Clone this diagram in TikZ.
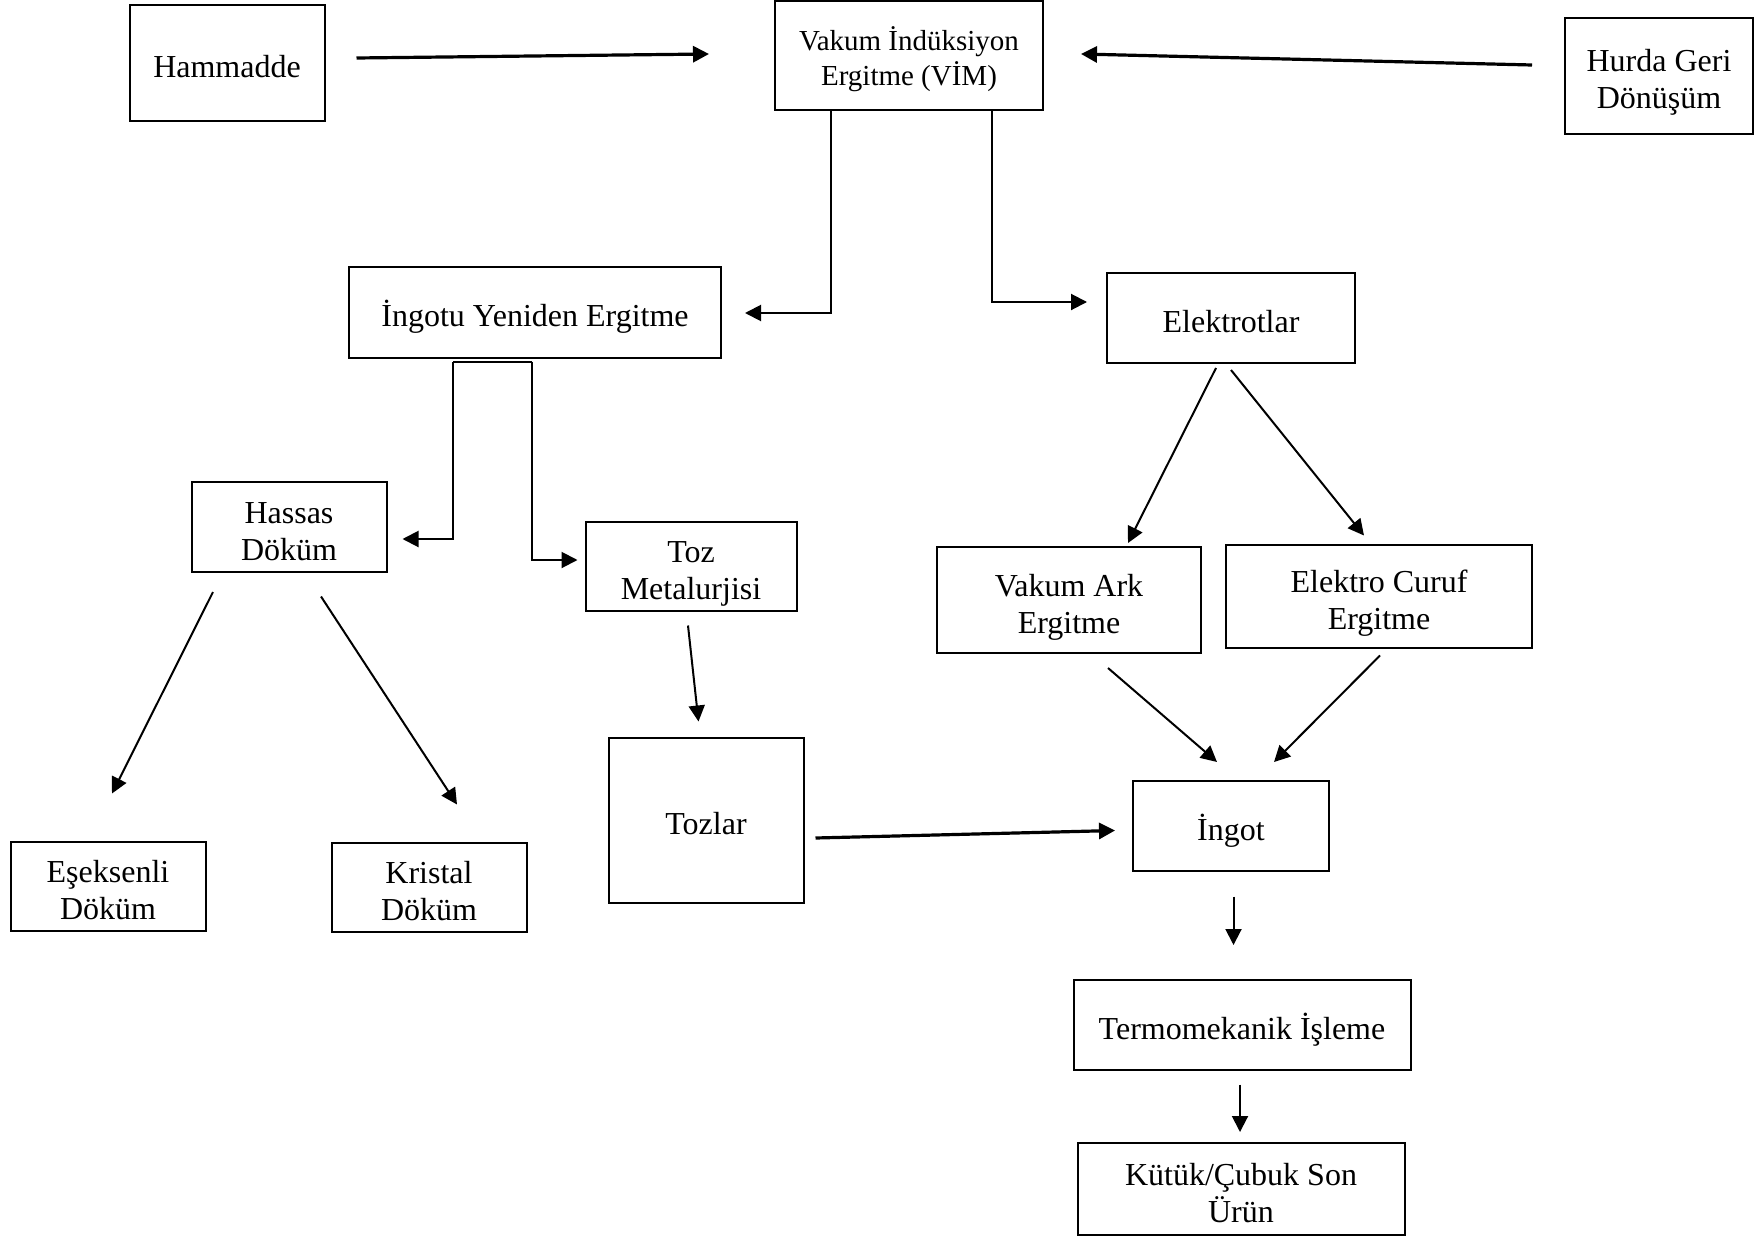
\documentclass[tikz,border=0pt]{standalone}
\usepackage{fontspec}
\setmainfont{Liberation Serif}
\usetikzlibrary{calc,arrows.meta}
\tikzset{
  stepBox/.style={
    rectangle,
    draw=black,
    line width=1pt,
    inner sep=0pt,
    align=center,
    font=\fontsize{16}{18.5}\selectfont,
    text height=14.5pt,
    text depth=0pt
  },
  twoLine/.style={
    text height=33pt
  },
  flowArrow/.style={
    -{Triangle[length=8pt,width=8pt]},
    line width=1pt
  },
  boldArrow/.style={
    flowArrow,
    line width=1.6pt
  },
  flowLine/.style={
    line width=1pt
  }
}

\begin{document}
\begin{tikzpicture}[x=0.5pt,y=-0.5pt]
        \useasboundingbox (0,0) rectangle (1755,1236);

        % top row
        \node[stepBox, minimum width=97.5pt, minimum height=58pt] (hammadde) at (227,63) {Hammadde};
        \node[stepBox, minimum width=134pt, minimum height=54.5pt, font=\fontsize{14.5}{17.4}\selectfont, text height=29.4pt] (vim) at (909,56) {Vakum İndüksiyon\\Ergitme (VİM)};
        \node[stepBox, twoLine, minimum width=94pt, minimum height=58pt] (hurda) at (1659,76) {Hurda Geri\\Dönüşüm};

        % second row
        \node[stepBox, minimum width=186pt, minimum height=45.5pt] (ingotu) at (535,312) {İngotu Yeniden Ergitme};
        \node[stepBox, minimum width=124pt, minimum height=45pt] (elektrot) at (1231,318) {Elektrotlar};

        % third row
        \node[stepBox, twoLine, minimum width=97.5pt, minimum height=45pt] (hassas) at (289,527) {Hassas\\Döküm};
        \node[stepBox, twoLine, minimum width=105.5pt, minimum height=44.5pt] (toz) at (691,566) {Toz\\Metalurjisi};
        \node[stepBox, twoLine, minimum width=132pt, minimum height=53pt] (var) at (1069,600) {Vakum Ark\\Ergitme};
        \node[stepBox, twoLine, minimum width=153pt, minimum height=51.5pt] (ece) at (1379,596) {Elektro Curuf\\Ergitme};

        % lower rows
        \node[stepBox, minimum width=97.5pt, minimum height=82.5pt] (tozlar) at (706,820) {Tozlar};
        \node[stepBox, minimum width=98pt, minimum height=45pt] (ingot) at (1231,826) {İngot};
        \node[stepBox, twoLine, minimum width=97.5pt, minimum height=44.5pt] (esek) at (108,886) {Eşeksenli\\Döküm};
        \node[stepBox, twoLine, minimum width=97.5pt, minimum height=44.5pt] (kristal) at (429,887) {Kristal\\Döküm};
        \node[stepBox, minimum width=168.5pt, minimum height=45pt] (termo) at (1242,1025) {Termomekanik İşleme};
        \node[stepBox, twoLine, minimum width=163.5pt, minimum height=46pt] (kutuk) at (1241,1189) {Kütük/Çubuk Son\\Ürün};

        % inputs
        \draw[boldArrow] ($(hammadde.east)+(31,-5)$) -- ($(vim.west)+(-65,-2)$);
        \draw[boldArrow] ($(hurda.west)+(-32,-11)$) -- ($(vim.east)+(37,-2)$);

        % from VIM
        \draw[flowArrow] ($(vim.south)+(-78,0)$) |- ($(ingotu.east)+(23,1)$);
        \draw[flowArrow] ($(vim.south)+(83,0)$) |- ($(elektrot.west)+(-19,-16)$);

        % from remelting
        \draw[flowLine] ($(ingotu.south)+(-82,3)$) -- ($(ingotu.south)+(-3,3)$);
        \draw[flowArrow] ($(ingotu.south)+(-82,3)$) |- ($(hassas.east)+(15,12)$);
        \draw[flowArrow] ($(ingotu.south)+(-3,3)$) |- ($(toz.west)+(-7,-6)$);

        \draw[flowArrow] ($(hassas.south)+(-76,19)$) -- ($(esek.north)+(4,-47)$);
        \draw[flowArrow] ($(hassas.south)+(32,23.5)$) -- ($(kristal.north)+(28,-37)$);
        \draw[flowArrow] ($(toz.south)+(-3,14)$) -- ($(tozlar.north)+(-7.5,-15)$);

        % electrodes
        \draw[flowArrow] ($(elektrot.south)+(-15,4)$) -- ($(var.north)+(59,-3)$);
        \draw[flowArrow] ($(elektrot.south)+(0,6)$) -- ($(ece.north)+(-15,-8)$);
        \draw[flowArrow] ($(var.south)+(39,14)$) -- ($(ingot.north)+(-14,-18)$);
        \draw[flowArrow] ($(ece.south)+(1,7)$) -- ($(ingot.north)+(43,-18)$);

        % ingot chain
        \draw[boldArrow] ($(tozlar.east)+(11,18)$) -- ($(ingot.west)+(-17,4.5)$);
        \draw[flowArrow] ($(ingot.south)+(2.5,24.5)$) -- ($(termo.north)+(-8.5,-34)$);
        \draw[flowArrow] ($(termo.south)+(-2,13.5)$) -- ($(kutuk.north)+(-1,-10)$);

    \end{tikzpicture}
\end{document}
